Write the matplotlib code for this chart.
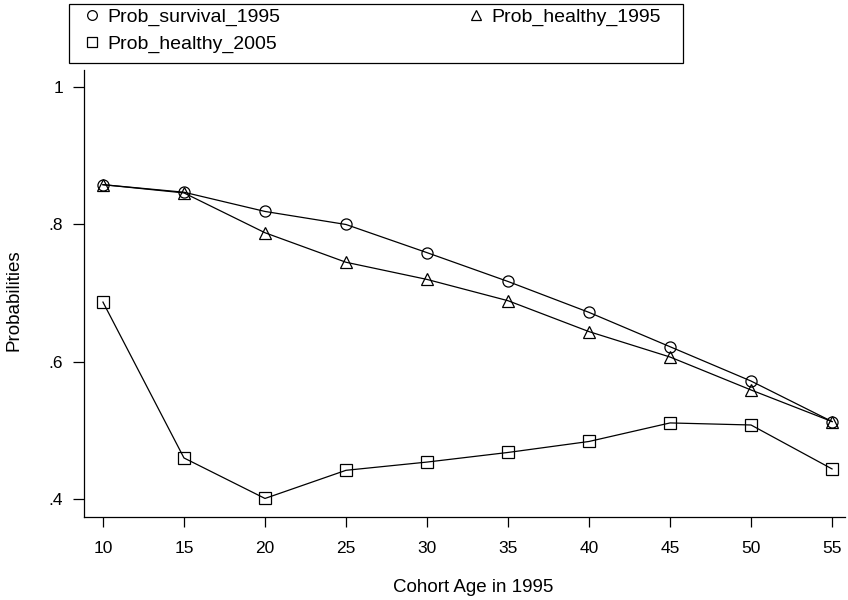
import matplotlib
matplotlib.use("Agg")
import matplotlib.pyplot as plt
from matplotlib.patches import Rectangle

ages = [10, 15, 20, 25, 30, 35, 40, 45, 50, 55]
prob_survival_1995 = [0.858, 0.847, 0.819, 0.800, 0.759, 0.717, 0.672, 0.622, 0.572, 0.513]
prob_healthy_1995 = [0.858, 0.846, 0.788, 0.745, 0.720, 0.689, 0.644, 0.607, 0.559, 0.513]
prob_healthy_2005 = [0.687, 0.460, 0.401, 0.442, 0.454, 0.468, 0.484, 0.511, 0.508, 0.444]
xticks = [10, 15, 20, 25, 30, 35, 40, 45, 50, 55]
yticks = [0.4, 0.6, 0.8, 1.0]
yticklabels = [".4", ".6", ".8", "1"]

plt.rcParams['font.family'] = ['Liberation Sans', 'DejaVu Sans']

W, H = 848, 600
fig = plt.figure(figsize=(W/100, H/100), dpi=100)
ax = fig.add_axes([84/W, 1-517/H, 761/W, (517-70)/H])

kw = dict(color='black', lw=0.9, mfc='none', mec='black', mew=0.9)
l1, = ax.plot(ages, prob_survival_1995, marker='o', ms=8, label='Prob_survival_1995', **kw)
l2, = ax.plot(ages, prob_healthy_1995, marker='^', ms=8, label='Prob_healthy_1995', **kw)
l3, = ax.plot(ages, prob_healthy_2005, marker='s', ms=8, label='Prob_healthy_2005', **kw)

ax.set_xlim(8.83, 55.8)
ax.set_ylim(0.374, 1.025)
ax.set_xticks(xticks)
ax.set_xticklabels([str(v) for v in xticks])
ax.set_yticks(yticks)
ax.set_yticklabels(yticklabels)
for s in ['top', 'right']:
    ax.spines[s].set_visible(False)
for s in ['left', 'bottom']:
    ax.spines[s].set_linewidth(0.9)
ax.tick_params(axis='x', direction='out', length=7.5, width=0.9, labelsize=12.5, pad=9.5, colors='black')
ax.tick_params(axis='y', direction='out', length=8, width=0.9, labelsize=12.5, pad=7, colors='black')
ax.set_xlabel('Cohort Age in 1995', fontsize=13.5)
ax.set_ylabel('Probabilities', fontsize=13.5)
ax.xaxis.set_label_coords((473-84)/761, (517-587)/447)
ax.xaxis.label.set_va('center')
ax.yaxis.set_label_coords((14-84)/761, (517-300)/447)
ax.yaxis.label.set_va('center')

fs = 14
leg = fig.legend([l1, l3, l2], ['Prob_survival_1995', 'Prob_healthy_2005', 'Prob_healthy_1995'],
                 ncol=2, loc='upper left', bbox_to_anchor=(84.2/W, 1-8/H),
                 frameon=False, fontsize=fs,
                 handlelength=0.8, handletextpad=0.37, columnspacing=9.7, borderpad=0,
                 labelspacing=0.48, borderaxespad=0)
for h in leg.legend_handles:
    h.set_linestyle('none')
    h.set_markersize(7)
fig.add_artist(Rectangle((69/W, 1-63/H), (683-69)/W, 59/H, transform=fig.transFigure,
                         fill=False, lw=0.9, edgecolor='black'))

fig.savefig('out.png', dpi=100)
